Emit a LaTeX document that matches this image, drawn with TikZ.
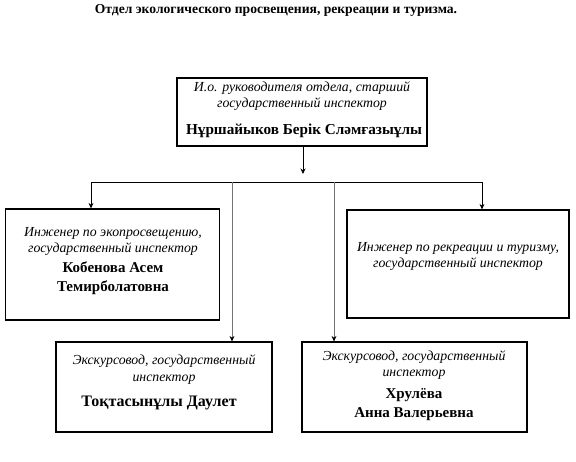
\documentclass[tikz,border=0pt]{standalone}
\usepackage{fontspec}
\setmainfont{Liberation Serif}
\usetikzlibrary{arrows.meta}
\begin{document}
\begin{tikzpicture}[x=1pt,y=-1pt,
  box/.style={draw=black,line width=1.2pt,minimum width=#1,inner sep=0pt},
  arr/.style={line width=0.8pt,-{Stealth[length=5.5pt,width=5pt]}},
  grayarr/.style={draw=black!55,line width=0.8pt,-{Stealth[length=5.5pt,width=5pt,color=black]}},
  ital/.style={font=\fontsize{13.8}{16.3}\selectfont\itshape,align=center,inner sep=0pt},
  bname/.style={font=\fontsize{15}{19}\selectfont\bfseries,align=center,inner sep=0pt},
  ttl/.style={font=\fontsize{13.6}{15}\selectfont\bfseries,inner sep=0pt}]
\useasboundingbox (0,0) rectangle (576,462);
% title
\node[ttl] (title) at (276,10.5) {Отдел экологического просвещения, рекреации и туризма.};
% boxes
\node[box=250pt,minimum height=68pt] (top) at (302,112) {};
\node[box=214pt,minimum height=111pt] (left) at (112.5,264.5) {};
\node[box=222pt,minimum height=108pt] (right) at (458,264) {};
\node[box=216pt,minimum height=90pt] (bl) at (164,387) {};
\node[box=225pt,minimum height=90pt] (br) at (414.5,387) {};
% texts
\node[ital] (t1) at (302,96) {И.о. руководителя отдела, старший\\государственный инспектор};
\node[bname,font=\fontsize{15.2}{17}\selectfont\bfseries] (t2) at (304,131) {Нұршайыков Берік Сләмғазыұлы};
\node[ital] (l1) at (113,241.5) {Инженер по экопросвещению,\\государственный инспектор};
\node[bname] (l2) at (113,278) {Кобенова Асем\\Темирболатовна};
\node[ital] (r1) at (458,256.5) {Инженер по рекреации и туризму,\\государственный инспектор};
\node[ital] (b1) at (164,369.5) {Экскурсовод, государственный\\инспектор};
\node[bname,font=\fontsize{16}{19}\selectfont\bfseries] (b2) at (159,403) {Тоқтасынұлы Даулет};
\node[ital] (c1) at (414,365) {Экскурсовод, государственный\\инспектор};
\node[bname] (c2) at (414,404.5) {Хрулёва\\Анна Валерьевна};
% connectors
\coordinate (ta) at (303,174);
\coordinate (hl) at (91,182);
\coordinate (hr) at (482,182);
\coordinate (m1) at (232,182);
\coordinate (m2) at (334,182);
\draw[arr] (top.south -| ta) -- (ta);
\draw[line width=0.8pt] (hl) -- (hr);
\draw[arr] (hl) -- (hl |- left.north);
\draw[arr] (hr) -- (hr |- right.north);
\draw[grayarr] (m1) -- (m1 |- bl.north);
\draw[grayarr] (m2) -- (m2 |- br.north);
\end{tikzpicture}
\end{document}
